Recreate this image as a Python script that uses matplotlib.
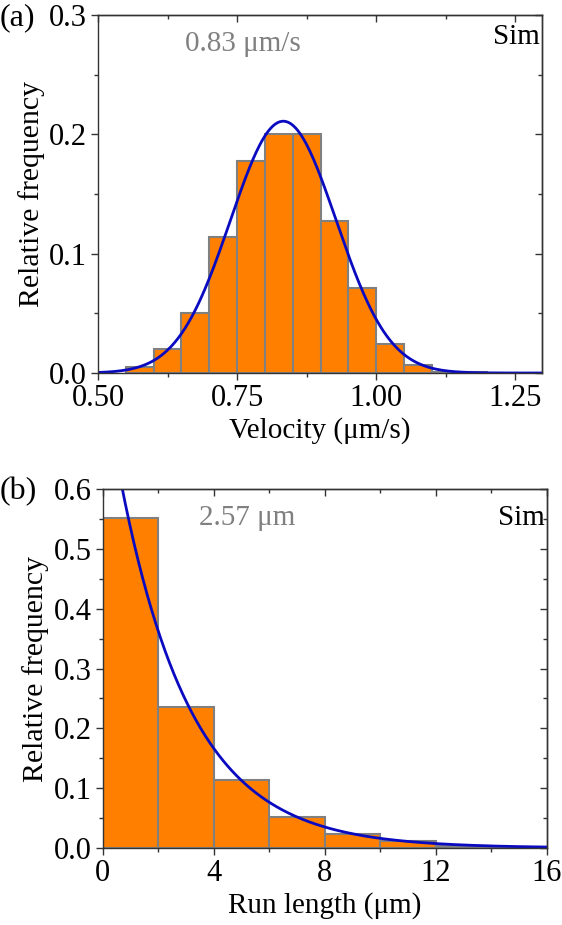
import matplotlib
matplotlib.use('Agg')
import matplotlib.pyplot as plt
from matplotlib.ticker import MultipleLocator
import numpy as np

# Panel (a): velocity histogram (bin edges 0.55..1.20, width 0.05)
vel_edges = [0.55, 0.60, 0.65, 0.70, 0.75, 0.80, 0.85, 0.90, 0.95, 1.00, 1.05, 1.10, 1.15, 1.20]
vel_freq = [0.005, 0.020, 0.050, 0.114, 0.178, 0.200, 0.200, 0.127, 0.071, 0.024, 0.007, 0.001, 0.0005]
# Gaussian fit parameters
vel_mean = 0.833
vel_sigma = 0.095
vel_amp = 0.211

# Panel (b): run length histogram (bin width 2)
run_edges = [0, 2, 4, 6, 8, 10, 12, 14, 16]
run_freq = [0.551, 0.235, 0.113, 0.052, 0.023, 0.012, 0.003, 0.001]
# exponential fit parameters
run_decay = 2.57
run_amp = 0.79

plt.rcParams['font.family'] = ['Liberation Serif', 'DejaVu Serif']
plt.rcParams['font.size'] = 22

bar_color = '#ff8000'
edge_color = '#808080'
fit_color = '#0a0ac0'
axis_color = '#333333'

fig = plt.figure(figsize=(5.62, 9.25), dpi=100)
ax1 = fig.add_axes([98 / 562, 1 - 373 / 925, 444 / 562, 358 / 925])
ax2 = fig.add_axes([102.7 / 562, 1 - 848 / 925, 444 / 562, 359 / 925])


def style_axes(ax):
    for s in ax.spines.values():
        s.set_linewidth(1.0)
        s.set_color(axis_color)
    ax.tick_params(which='both', direction='out', top=False, right=False,
                   labelsize=22, width=1.0, color=axis_color)
    ax.tick_params(which='major', length=5, pad=3)
    ax.tick_params(which='minor', length=3)
    # mirrored ticks pointing inward on top and right
    sx = ax.secondary_xaxis('top')
    sx.tick_params(which='both', direction='in', labeltop=False, width=1.0, color=axis_color)
    sx.tick_params(which='major', length=5)
    sx.tick_params(which='minor', length=3)
    sx.set_xticks(ax.get_xticks())
    sx.xaxis.set_minor_locator(ax.xaxis.get_minor_locator())
    sx.set_xticklabels([])
    sy = ax.secondary_yaxis('right')
    sy.tick_params(which='both', direction='in', labelright=False, width=1.0, color=axis_color)
    sy.tick_params(which='major', length=5)
    sy.tick_params(which='minor', length=3)
    sy.set_yticks(ax.get_yticks())
    sy.yaxis.set_minor_locator(ax.yaxis.get_minor_locator())
    sy.set_yticklabels([])
    for s in list(sx.spines.values()) + list(sy.spines.values()):
        s.set_linewidth(1.0)
        s.set_color(axis_color)


# ---- panel (a)
widths = np.diff(vel_edges)
ax1.bar(vel_edges[:-1], vel_freq, width=widths, align='edge', color=bar_color,
        edgecolor=edge_color, linewidth=1.5)
xv = np.linspace(0.5, 1.3, 400)
ax1.plot(xv, vel_amp * np.exp(-(xv - vel_mean) ** 2 / (2 * vel_sigma ** 2)),
         color=fit_color, lw=2)
ax1.set_xlim(0.5, 1.298)
ax1.set_ylim(0, 0.3)
ax1.set_xticks([0.5, 0.75, 1.0, 1.25])
ax1.set_xticklabels(['0.50', '0.75', '1.00', '1.25'])
ax1.xaxis.set_minor_locator(MultipleLocator(0.125))
ax1.set_yticks([0.0, 0.1, 0.2, 0.3])
ax1.set_yticklabels(['0.0', '0.1', '0.2', '0.3'])
ax1.yaxis.set_minor_locator(MultipleLocator(0.05))
ax1.set_xlabel('Velocity (\u03bcm/s)', fontsize=21, labelpad=3)
ax1.set_ylabel('Relative frequency', fontsize=21.5, labelpad=3)
style_axes(ax1)
ax1.text(0.197, 0.955, '0.83 \u03bcm/s', transform=ax1.transAxes, color='#808080',
         fontsize=21, ha='left', va='top')
ax1.text(0.995, 0.975, 'Sim', transform=ax1.transAxes, fontsize=21, ha='right', va='top')
fig.text(0.0, 1 - 18 / 925, '(a)', fontsize=23, ha='left', va='center')

# ---- panel (b)
widths = np.diff(run_edges)
ax2.bar(run_edges[:-1], run_freq, width=widths, align='edge', color=bar_color,
        edgecolor=edge_color, linewidth=1.5)
xr = np.linspace(0, 16, 400)
ax2.plot(xr, run_amp * np.exp(-xr / run_decay), color=fit_color, lw=2)
ax2.set_xlim(0, 16)
ax2.set_ylim(0, 0.6)
ax2.set_xticks([0, 4, 8, 12, 16])
ax2.xaxis.set_minor_locator(MultipleLocator(2))
ax2.set_yticks([0.0, 0.1, 0.2, 0.3, 0.4, 0.5, 0.6])
ax2.set_yticklabels(['0.0', '0.1', '0.2', '0.3', '0.4', '0.5', '0.6'])
ax2.yaxis.set_minor_locator(MultipleLocator(0.05))
ax2.set_xlabel('Run length (\u03bcm)', fontsize=21, labelpad=3)
ax2.set_ylabel('Relative frequency', fontsize=21.5, labelpad=3)
style_axes(ax2)
ax2.text(0.217, 0.955, '2.57 \u03bcm', transform=ax2.transAxes, color='#808080',
         fontsize=21, ha='left', va='top')
ax2.text(0.995, 0.955, 'Sim', transform=ax2.transAxes, fontsize=21, ha='right', va='top')
fig.text(0.0, 1 - 492 / 925, '(b)', fontsize=23, ha='left', va='center')

fig.savefig('out.png', dpi=100)
